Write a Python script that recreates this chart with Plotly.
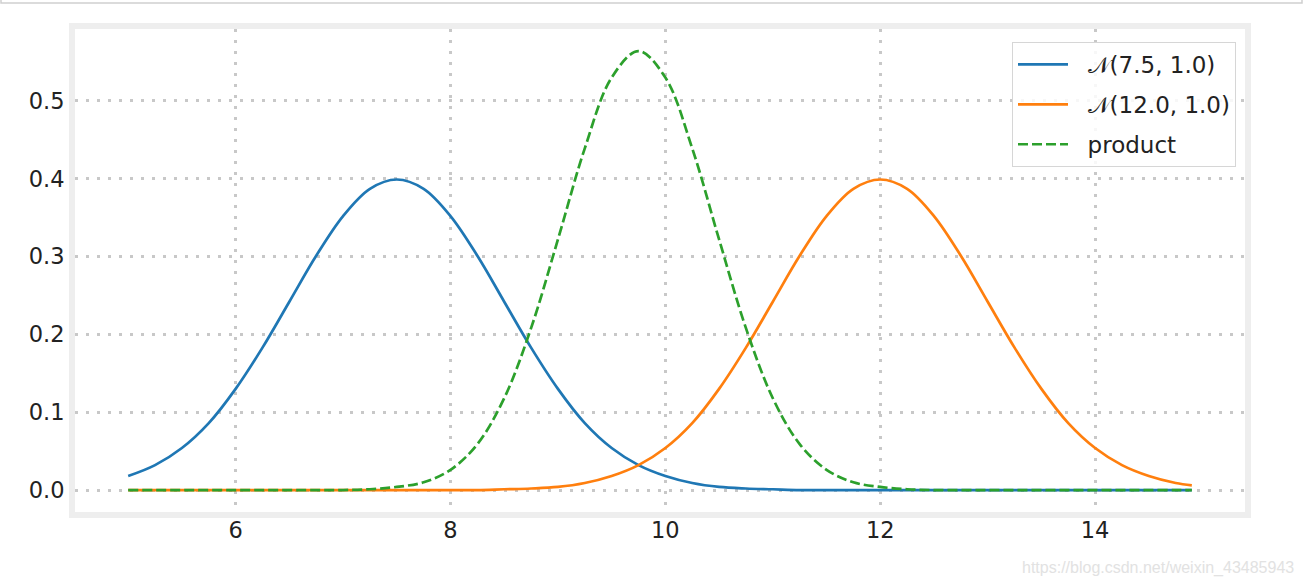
import plotly.graph_objects as go

# ---- data ----
x_vals = [5.0, 5.25, 5.5, 5.75, 6.0, 6.25, 6.5, 6.75, 7.0, 7.25, 7.5, 7.75,
          8.0, 8.25, 8.5, 8.75, 9.0, 9.25, 9.5, 9.75, 10.0, 10.25, 10.5, 10.75,
          11.0, 11.25, 11.5, 11.75, 12.0, 12.25, 12.5, 12.75, 13.0, 13.25, 13.5,
          13.75, 14.0, 14.25, 14.5, 14.75, 14.9]

n1_vals = [0.018, 0.032, 0.054, 0.086, 0.130, 0.183, 0.242, 0.301, 0.352, 0.387,
           0.399, 0.387, 0.352, 0.301, 0.242, 0.183, 0.130, 0.086, 0.054, 0.032,
           0.018, 0.009, 0.004, 0.002, 0.001, 0.0, 0.0, 0.0, 0.0, 0.0, 0.0, 0.0,
           0.0, 0.0, 0.0, 0.0, 0.0, 0.0, 0.0, 0.0, 0.0]

n2_vals = [0.0, 0.0, 0.0, 0.0, 0.0, 0.0, 0.0, 0.0, 0.0, 0.0, 0.0, 0.0,
           0.0, 0.0, 0.001, 0.002, 0.004, 0.009, 0.018, 0.032, 0.054, 0.086,
           0.130, 0.183, 0.242, 0.301, 0.352, 0.387, 0.399, 0.387, 0.352, 0.301,
           0.242, 0.183, 0.130, 0.086, 0.054, 0.032, 0.018, 0.009, 0.006]

prod_vals = [0.0, 0.0, 0.0, 0.0, 0.0, 0.0, 0.0, 0.0, 0.0, 0.001, 0.004, 0.010,
             0.026, 0.059, 0.118, 0.208, 0.322, 0.439, 0.530, 0.564, 0.530, 0.439,
             0.322, 0.208, 0.118, 0.059, 0.026, 0.010, 0.004, 0.001, 0.0, 0.0,
             0.0, 0.0, 0.0, 0.0, 0.0, 0.0, 0.0, 0.0, 0.0]

series_names = ["\U0001D4A9(7.5, 1.0)", "\U0001D4A9(12.0, 1.0)", "product"]
x_ticks = [6, 8, 10, 12, 14]
y_ticks = [0.0, 0.1, 0.2, 0.3, 0.4, 0.5]
watermark = "https://blog.csdn.net/weixin_43485943"

FONT = "DejaVu Sans"
PAD = "\u00a0\u00a0"

fig = go.Figure()
fig.add_trace(go.Scatter(x=x_vals, y=n1_vals, mode="lines", name=PAD + series_names[0],
                         legendgroup="a",
                         line=dict(color="#1f77b4", width=2.7, shape="spline", smoothing=1.0)))
fig.add_trace(go.Scatter(x=x_vals, y=n2_vals, mode="lines", name=PAD + series_names[1],
                         legendgroup="b",
                         line=dict(color="#ff7f0e", width=2.7, shape="spline", smoothing=1.0)))
fig.add_trace(go.Scatter(x=x_vals, y=prod_vals, mode="lines", name=PAD + series_names[2],
                         legendgroup="c",
                         line=dict(color="#2ca02c", width=2.7, dash="10px,4px",
                                   shape="spline", smoothing=1.0)))

axis_common = dict(
    showgrid=True, gridcolor="#c8c8c8", gridwidth=2.5, griddash="3px,8px",
    zeroline=False, showline=True, mirror=True, linecolor="#eeeeee", linewidth=6,
    ticks="", tickfont=dict(family=FONT, size=22.5, color="#222222"),
)

fig.update_layout(
    width=1304, height=586,
    paper_bgcolor="white", plot_bgcolor="white",
    margin=dict(l=75, r=59, t=29, b=74, pad=0),
    xaxis=dict(range=[4.505, 15.395], tickvals=x_ticks, ticklabelstandoff=-7, **axis_common),
    yaxis=dict(range=[-0.0282, 0.5924], tickvals=y_ticks, tickformat=".1f", **axis_common),
    showlegend=True,
    legend=dict(x=(1236 - 75) / 1170, y=(512 - 42) / 483, xanchor="right", yanchor="top",
                bgcolor="rgba(255,255,255,0.85)", bordercolor="#d6d6d6", borderwidth=1,
                font=dict(family=FONT, size=23, color="#222222"),
                itemwidth=50,
                traceorder="grouped", tracegroupgap=7),
    font=dict(family=FONT),
    shapes=[dict(type="rect", xref="paper", yref="paper",
                 x0=(1 - 75) / 1170, x1=(1302 - 75) / 1170,
                 y0=(512 - 3) / 483, y1=1.2,
                 line=dict(color="#cfcfcf", width=1.5), fillcolor="rgba(0,0,0,0)")],
    annotations=[dict(text=watermark, xref="paper", yref="paper",
                      x=(1296 - 75) / 1170, y=(512 - 568) / 483,
                      xanchor="right", yanchor="middle", showarrow=False,
                      font=dict(family="Liberation Sans", size=16, color="#e2e2e2"))],
)

fig.write_html("out.html", post_script="document.body.style.margin='0';",
               config={"displayModeBar": False})
